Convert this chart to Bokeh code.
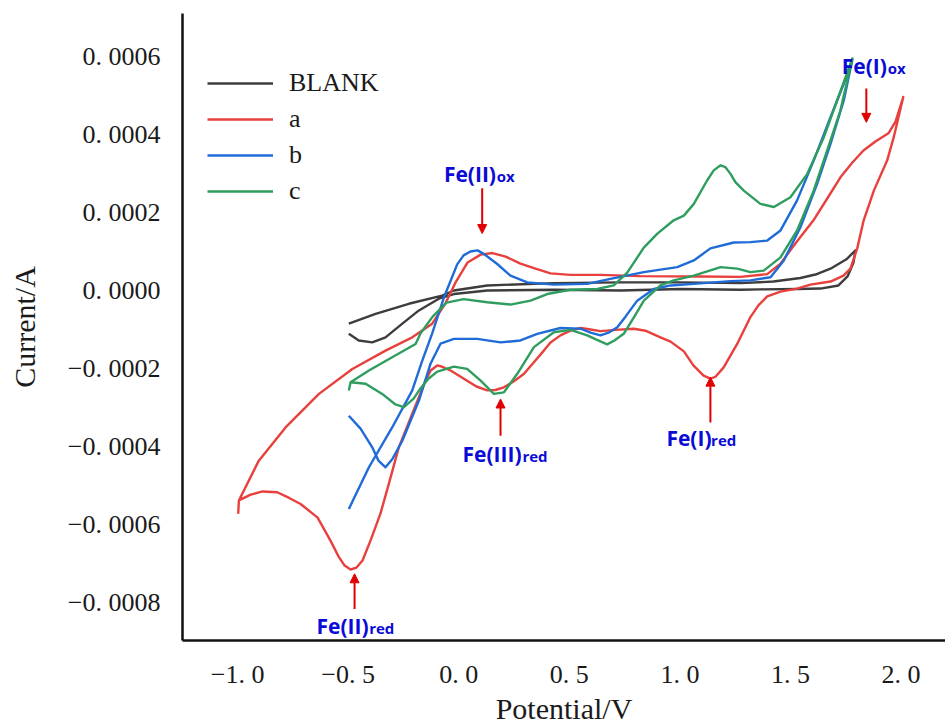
from bokeh.plotting import figure
from bokeh.models import FixedTicker, Legend, LegendItem, Arrow, NormalHead, Range1d, ColumnDataSource
from bokeh.core.properties import value
from bokeh.embed import file_html
from bokeh.resources import INLINE

# ---------------- data (potential in V, current in A) ----------------
blank_v = [-0.497, -0.376, -0.226, -0.075, -0.022, 0.129, 0.430, 0.731, 1.003, 1.274, 1.423, 1.545, 1.613, 1.681, 1.753, 1.794,
           1.785, 1.758, 1.717, 1.636, 1.530, 1.364, 1.274, 1.003, 0.731, 0.430, 0.129, -0.022, -0.090, -0.180, -0.255, -0.331, -0.391, -0.452, -0.497]
blank_i = [-0.85e-4, -0.60e-4, -0.34e-4, -0.13e-4, 0.00e-4, 0.13e-4, 0.19e-4, 0.21e-4, 0.21e-4, 0.19e-4, 0.23e-4, 0.32e-4, 0.41e-4, 0.56e-4, 0.80e-4, 1.03e-4,
           0.72e-4, 0.36e-4, 0.13e-4, 0.05e-4, 0.04e-4, 0.03e-4, 0.02e-4, 0.04e-4, 0.00e-4, 0.02e-4, 0.00e-4, -0.09e-4, -0.21e-4, -0.51e-4, -0.85e-4, -1.20e-4, -1.33e-4, -1.28e-4, -1.11e-4]

a_v = [-0.997, -0.994, -0.904, -0.783, -0.632, -0.481, -0.331, -0.210, -0.120, -0.060,
       -0.014, 0.040, 0.099, 0.153, 0.212, 0.279, 0.347, 0.415, 0.505, 0.641,
       0.822, 1.093, 1.274, 1.395, 1.455, 1.523, 1.604, 1.672, 1.726, 1.780,
       1.830, 1.884, 1.943, 1.975, 2.010,
       1.967, 1.937, 1.877, 1.831, 1.802, 1.771, 1.740, 1.681, 1.590, 1.530,
       1.455, 1.395, 1.355, 1.319, 1.259, 1.198, 1.161, 1.138, 1.107, 1.061,
       1.018, 0.958, 0.912, 0.844, 0.792, 0.709, 0.641, 0.596, 0.551, 0.505,
       0.460, 0.415, 0.385, 0.338, 0.294, 0.248, 0.204, 0.166, 0.129, 0.080,
       0.038, -0.037, -0.082, -0.097, -0.127, -0.150, -0.210, -0.271,
       -0.308, -0.354, -0.399, -0.435, -0.462, -0.489, -0.516, -0.543, -0.580, -0.638,
       -0.715, -0.769, -0.821, -0.887, -0.941, -0.994]
a_i = [-5.72e-4, -5.38e-4, -4.36e-4, -3.51e-4, -2.65e-4, -2.01e-4, -1.54e-4, -1.20e-4, -0.85e-4, -0.33e-4,
       0.21e-4, 0.72e-4, 0.92e-4, 0.96e-4, 0.87e-4, 0.69e-4, 0.56e-4, 0.44e-4, 0.40e-4, 0.40e-4,
       0.37e-4, 0.36e-4, 0.35e-4, 0.42e-4, 0.69e-4, 1.21e-4, 1.80e-4, 2.41e-4, 2.90e-4, 3.28e-4,
       3.59e-4, 3.82e-4, 4.03e-4, 4.33e-4, 4.96e-4,
       3.93e-4, 3.33e-4, 2.56e-4, 1.80e-4, 1.08e-4, 0.56e-4, 0.38e-4, 0.23e-4, 0.15e-4, 0.05e-4,
       -0.03e-4, -0.15e-4, -0.38e-4, -0.68e-4, -1.37e-4, -1.97e-4, -2.21e-4, -2.26e-4, -2.18e-4, -1.92e-4,
       -1.56e-4, -1.31e-4, -1.20e-4, -1.03e-4, -0.98e-4, -1.01e-4, -1.04e-4, -1.00e-4, -0.96e-4, -1.03e-4,
       -1.15e-4, -1.33e-4, -1.54e-4, -1.85e-4, -2.14e-4, -2.33e-4, -2.48e-4, -2.55e-4, -2.56e-4, -2.46e-4,
       -2.31e-4, -2.05e-4, -1.94e-4, -1.92e-4, -2.05e-4, -2.31e-4, -3.16e-4, -4.02e-4,
       -4.79e-4, -5.72e-4, -6.41e-4, -6.92e-4, -7.10e-4, -7.15e-4, -7.05e-4, -6.82e-4, -6.41e-4, -5.82e-4,
       -5.47e-4, -5.31e-4, -5.17e-4, -5.15e-4, -5.23e-4, -5.38e-4]

b_v = [-0.497, -0.406, -0.301, -0.210, -0.168, -0.120, -0.067, -0.007, 0.022, 0.053,
       0.085, 0.113, 0.174, 0.234, 0.310, 0.430, 0.581, 0.686, 0.837, 0.988,
       1.063, 1.138, 1.244, 1.319, 1.395, 1.455, 1.530, 1.605, 1.681, 1.741, 1.780,
       1.741, 1.681, 1.621, 1.545, 1.470, 1.410, 1.319, 1.229, 1.063, 0.958,
       0.882, 0.807, 0.754, 0.717, 0.677, 0.641, 0.596, 0.551, 0.460, 0.355,
       0.279, 0.189, 0.084, -0.022, -0.082, -0.127, -0.180, -0.255, -0.299, -0.331,
       -0.363, -0.391, -0.444, -0.497]
b_i = [-5.60e-4, -4.53e-4, -3.51e-4, -2.56e-4, -1.85e-4, -1.10e-4, -0.18e-4, 0.67e-4, 0.90e-4, 1.00e-4,
       1.03e-4, 0.94e-4, 0.68e-4, 0.38e-4, 0.21e-4, 0.15e-4, 0.17e-4, 0.30e-4, 0.47e-4, 0.60e-4,
       0.77e-4, 1.08e-4, 1.23e-4, 1.24e-4, 1.28e-4, 1.54e-4, 2.31e-4, 3.33e-4, 4.44e-4, 5.30e-4, 5.92e-4,
       4.87e-4, 3.76e-4, 2.74e-4, 1.62e-4, 0.77e-4, 0.34e-4, 0.26e-4, 0.24e-4, 0.17e-4, 0.13e-4,
       0.04e-4, -0.26e-4, -0.67e-4, -0.94e-4, -1.08e-4, -1.15e-4, -1.08e-4, -0.98e-4, -0.96e-4, -1.11e-4,
       -1.28e-4, -1.33e-4, -1.24e-4, -1.24e-4, -1.36e-4, -1.87e-4, -2.82e-4, -3.85e-4, -4.31e-4, -4.53e-4,
       -4.36e-4, -4.02e-4, -3.54e-4, -3.21e-4]

c_v = [-0.497, -0.489, -0.406, -0.301, -0.195, -0.173, -0.118, -0.055, 0.022, 0.129,
       0.234, 0.325, 0.400, 0.505, 0.626, 0.701, 0.762, 0.837, 0.897, 0.972,
       1.018, 1.063, 1.123, 1.153, 1.184, 1.206, 1.229, 1.251, 1.289, 1.364, 1.425, 1.500, 1.576,
       1.651, 1.711, 1.771, 1.780,
       1.726, 1.666, 1.605, 1.530, 1.455, 1.379, 1.319, 1.259, 1.184, 1.063,
       0.972, 0.912, 0.837, 0.792, 0.746, 0.704, 0.671, 0.623, 0.581, 0.505,
       0.430, 0.340, 0.264, 0.204, 0.159, 0.099, 0.038, -0.022, -0.097, -0.137,
       -0.173, -0.204, -0.248, -0.286, -0.346, -0.421, -0.489]
c_i = [-2.56e-4, -2.35e-4, -2.05e-4, -1.71e-4, -1.37e-4, -1.10e-4, -0.67e-4, -0.31e-4, -0.22e-4, -0.30e-4,
       -0.36e-4, -0.26e-4, -0.09e-4, 0.02e-4, 0.04e-4, 0.13e-4, 0.46e-4, 1.10e-4, 1.45e-4, 1.80e-4,
       1.92e-4, 2.22e-4, 2.82e-4, 3.08e-4, 3.21e-4, 3.16e-4, 2.99e-4, 2.78e-4, 2.56e-4, 2.22e-4, 2.14e-4, 2.39e-4, 2.99e-4,
       3.93e-4, 4.87e-4, 5.81e-4, 5.95e-4,
       4.62e-4, 3.59e-4, 2.56e-4, 1.54e-4, 0.85e-4, 0.51e-4, 0.47e-4, 0.56e-4, 0.60e-4, 0.38e-4,
       0.26e-4, 0.13e-4, -0.26e-4, -0.69e-4, -1.11e-4, -1.28e-4, -1.38e-4, -1.26e-4, -1.15e-4, -1.01e-4,
       -1.07e-4, -1.45e-4, -2.14e-4, -2.61e-4, -2.65e-4, -2.31e-4, -2.01e-4, -1.95e-4, -2.08e-4, -2.26e-4,
       -2.51e-4, -2.77e-4, -2.99e-4, -2.92e-4, -2.65e-4, -2.39e-4, -2.35e-4]

series_names = ["BLANK", "a", "b", "c"]

x_ticks = [-1.0, -0.5, 0.0, 0.5, 1.0, 1.5, 2.0]
x_tick_labels = ["\u22121. 0", "\u22120. 5", "0. 0", "0. 5", "1. 0", "1. 5", "2. 0"]
y_ticks = [-0.0008, -0.0006, -0.0004, -0.0002, 0.0, 0.0002, 0.0004, 0.0006]
y_tick_labels = ["\u22120. 0008", "\u22120. 0006", "\u22120. 0004", "\u22120. 0002",
                 "0. 0000", "0. 0002", "0. 0004", "0. 0006"]

# peak annotations
ann_main = ["Fe(II)", "Fe(I)", "Fe(III)", "Fe(I)", "Fe(II)"]
ann_sub = ["ox", "ox", "red", "red", "red"]
ann_text_v = [-0.067, 1.732, 0.017, 0.939, -0.643]
ann_text_i = [2.75e-4, 5.53e-4, -4.41e-4, -4.02e-4, -8.82e-4]
ann_sub_v = [0.172, 1.940, 0.288, 1.141, -0.405]
arrow_v = [0.106, 1.843, 0.189, 1.138, -0.471]
arrow_tail_i = [2.62e-4, 5.18e-4, -3.72e-4, -3.38e-4, -8.16e-4]
arrow_tip_i = [1.46e-4, 4.31e-4, -2.78e-4, -2.22e-4, -7.26e-4]

# ---------------- styling ----------------
colors = ["#3d3d3d", "#e8403c", "#1f6bd8", "#2f9d5e"]
serif = "Liberation Serif"
ann_color = "#0b0bd8"
arrow_color = "#e00000"

p = figure(width=945, height=728, output_backend="svg", toolbar_location=None,
           x_range=Range1d(-1.249, 2.201), y_range=Range1d(-8.97e-4, 7.10e-4),
           min_border_left=182, min_border_right=0, min_border_top=13, min_border_bottom=88)
p.outline_line_color = None
p.grid.visible = False
p.background_fill_color = "white"
p.border_fill_color = "white"

renderers = []
for xs, ys, c in zip([blank_v, a_v, b_v, c_v], [blank_i, a_i, b_i, c_i], colors):
    r = p.line(xs, ys, line_color=c, line_width=2.4, line_join="round")
    renderers.append(r)

for ax in (p.xaxis[0], p.yaxis[0]):
    ax.axis_line_width = 2.5
    ax.axis_line_color = "#111111"
    ax.major_tick_line_color = None
    ax.minor_tick_line_color = None
    ax.major_tick_out = 0
    ax.major_tick_in = 0
    ax.minor_tick_out = 0
    ax.minor_tick_in = 0
    ax.major_label_text_font = serif
    ax.major_label_text_font_size = "26px"
    ax.major_label_text_color = "#1a1a1a"
    ax.axis_label_text_font = serif
    ax.axis_label_text_font_style = "normal"
    ax.axis_label_text_font_size = "30px"
    ax.axis_label_text_color = "#1a1a1a"

p.xaxis.ticker = FixedTicker(ticks=x_ticks)
p.xaxis.major_label_overrides = dict(zip(x_ticks, x_tick_labels))
p.xaxis.major_label_standoff = 19
p.xaxis.axis_label = "Potential/V"
p.xaxis.axis_label_standoff = 0

p.yaxis.ticker = FixedTicker(ticks=y_ticks)
p.yaxis.major_label_overrides = dict(zip(y_ticks, y_tick_labels))
p.yaxis.major_label_standoff = 22
p.yaxis.axis_label = "Current/A"
p.yaxis.axis_label_standoff = 24

legend = Legend(items=[LegendItem(label=n, renderers=[r]) for n, r in zip(series_names, renderers)],
                location=(25, 431), glyph_width=66, glyph_height=36, label_height=36,
                label_standoff=16, spacing=0, padding=0, margin=0,
                border_line_color=None, background_fill_alpha=0,
                label_text_font=serif, label_text_font_size="26px", label_text_color="#1a1a1a")
p.add_layout(legend)

src_main = ColumnDataSource(dict(x=ann_text_v, y=ann_text_i, t=ann_main))
src_sub = ColumnDataSource(dict(x=ann_sub_v, y=ann_text_i, t=ann_sub))
p.text(x="x", y="y", text="t", source=src_main, text_font=value("Open Sans"), text_font_style="bold",
       text_font_size="21px", text_color=ann_color, text_align="left", text_baseline="alphabetic", y_offset=-9)
p.text(x="x", y="y", text="t", source=src_sub, text_font=value("Open Sans"), text_font_style="bold",
       text_font_size="15px", text_color=ann_color, text_align="left", text_baseline="alphabetic", y_offset=-7)

for xv, y0, y1 in zip(arrow_v, arrow_tail_i, arrow_tip_i):
    p.add_layout(Arrow(end=NormalHead(size=9, fill_color=arrow_color, line_color=arrow_color),
                       x_start=xv, y_start=y0, x_end=xv, y_end=y1,
                       line_color=arrow_color, line_width=2))

open("out.html", "w").write(file_html(p, INLINE))
